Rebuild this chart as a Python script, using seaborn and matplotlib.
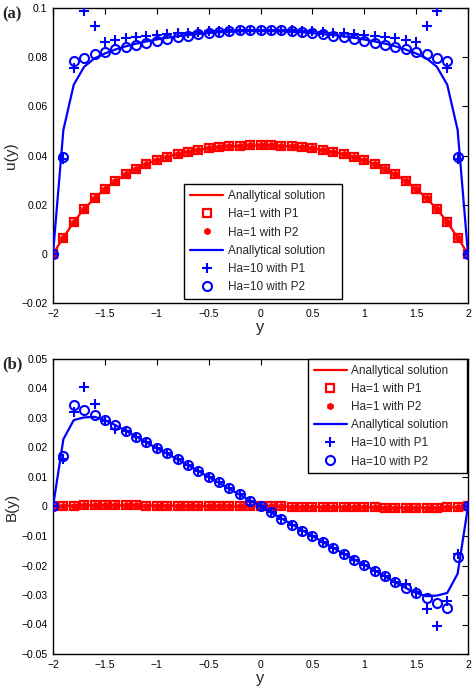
import numpy as np
import pandas as pd
import matplotlib
matplotlib.use("Agg")
import matplotlib.pyplot as plt
import seaborn as sns

# ---------------- data ----------------
y_pos = [-2.0, -1.9, -1.8, -1.7, -1.6, -1.5, -1.4, -1.3, -1.2, -1.1, -1.0,
         -0.9, -0.8, -0.7, -0.6, -0.5, -0.4, -0.3, -0.2, -0.1, 0.0,
         0.1, 0.2, 0.3, 0.4, 0.5, 0.6, 0.7, 0.8, 0.9, 1.0,
         1.1, 1.2, 1.3, 1.4, 1.5, 1.6, 1.7, 1.8, 1.9, 2.0]

# panel (a): u(y)
u_ha1 = [0, 0.0066, 0.0129, 0.0183, 0.0226, 0.0264, 0.0296, 0.0323, 0.0347, 0.0366, 0.0381,
         0.0395, 0.0406, 0.0415, 0.0423, 0.0429, 0.0434, 0.0437, 0.0439, 0.0441, 0.0441,
         0.0441, 0.0439, 0.0437, 0.0434, 0.0429, 0.0423, 0.0415, 0.0406, 0.0395, 0.0381,
         0.0366, 0.0347, 0.0323, 0.0296, 0.0264, 0.0226, 0.0183, 0.0129, 0.0066, 0]
u_ha1_p1 = list(u_ha1)
u_ha1_p2 = list(u_ha1)

u_ha10_exact = [0, 0.0504, 0.0688, 0.0761, 0.0795, 0.0815, 0.0831, 0.0844, 0.0855, 0.0864, 0.0872,
                0.0879, 0.0885, 0.0890, 0.0894, 0.0898, 0.0901, 0.0903, 0.0905, 0.0906, 0.0906,
                0.0906, 0.0905, 0.0903, 0.0901, 0.0898, 0.0894, 0.0890, 0.0885, 0.0879, 0.0872,
                0.0864, 0.0855, 0.0844, 0.0831, 0.0815, 0.0795, 0.0761, 0.0688, 0.0504, 0]
u_ha10_p1 = [0, 0.0385, 0.0757, 0.0989, 0.0925, 0.0862, 0.0870, 0.0876, 0.0882, 0.0887, 0.0891,
             0.0894, 0.0897, 0.0900, 0.0903, 0.0905, 0.0907, 0.0909, 0.0910, 0.0911, 0.0911,
             0.0911, 0.0910, 0.0909, 0.0907, 0.0905, 0.0903, 0.0900, 0.0897, 0.0894, 0.0891,
             0.0887, 0.0882, 0.0876, 0.0870, 0.0862, 0.0925, 0.0989, 0.0757, 0.0385, 0]
u_ha10_p2 = [0, 0.0393, 0.0785, 0.0796, 0.0812, 0.0822, 0.0833, 0.0842, 0.0850, 0.0859, 0.0867,
             0.0875, 0.0882, 0.0888, 0.0893, 0.0898, 0.0902, 0.0906, 0.0909, 0.0910, 0.0911,
             0.0910, 0.0909, 0.0906, 0.0902, 0.0898, 0.0893, 0.0888, 0.0882, 0.0875, 0.0867,
             0.0859, 0.0850, 0.0842, 0.0833, 0.0822, 0.0812, 0.0796, 0.0785, 0.0393, 0]

# panel (b): B(y)
b_ha1 = [0, 0.0002, 0.0003, 0.0004, 0.0004, 0.0004, 0.0004, 0.0004, 0.0004, 0.0003, 0.0003,
         0.0003, 0.0002, 0.0002, 0.0002, 0.0001, 0.0001, 0.0001, 0.0, 0.0, 0,
         0.0, 0.0, -0.0001, -0.0001, -0.0001, -0.0002, -0.0002, -0.0002, -0.0003, -0.0003,
         -0.0003, -0.0004, -0.0004, -0.0004, -0.0004, -0.0004, -0.0004, -0.0003, -0.0002, 0]
b_ha1_p1 = list(b_ha1)
b_ha1_p2 = list(b_ha1)

b_ha10_exact = [0, 0.0228, 0.0293, 0.0302, 0.0304, 0.0293, 0.0276, 0.0257, 0.0237, 0.0217, 0.0198,
                0.0179, 0.0160, 0.0140, 0.0120, 0.0100, 0.0080, 0.0060, 0.0040, 0.0020, 0,
                -0.0020, -0.0040, -0.0060, -0.0080, -0.0100, -0.0120, -0.0140, -0.0160, -0.0179, -0.0198,
                -0.0217, -0.0237, -0.0257, -0.0276, -0.0293, -0.0304, -0.0302, -0.0293, -0.0228, 0]
b_ha10_p1 = [0, 0.0160, 0.0320, 0.0405, 0.0346, 0.0290, 0.0263, 0.0256, 0.0237, 0.0217, 0.0198,
             0.0180, 0.0161, 0.0141, 0.0122, 0.0101, 0.0082, 0.0062, 0.0041, 0.0020, 0,
             -0.0020, -0.0041, -0.0062, -0.0082, -0.0101, -0.0122, -0.0141, -0.0161, -0.0180, -0.0198,
             -0.0217, -0.0237, -0.0256, -0.0263, -0.0290, -0.0346, -0.0405, -0.0320, -0.0160, 0]
b_ha10_p2 = [0, 0.0172, 0.0345, 0.0326, 0.0310, 0.0292, 0.0275, 0.0257, 0.0237, 0.0217, 0.0198,
             0.0180, 0.0161, 0.0141, 0.0122, 0.0101, 0.0082, 0.0062, 0.0041, 0.0020, 0,
             -0.0020, -0.0041, -0.0062, -0.0082, -0.0101, -0.0122, -0.0141, -0.0161, -0.0180, -0.0198,
             -0.0217, -0.0237, -0.0257, -0.0275, -0.0292, -0.0310, -0.0326, -0.0345, -0.0172, 0]

labels = ["Anallytical solution", "Ha=1 with P1", "Ha=1 with P2",
          "Anallytical solution", "Ha=10 with P1", "Ha=10 with P2"]

x_ticks = [-2, -1.5, -1, -0.5, 0, 0.5, 1, 1.5, 2]
x_ticklabels = ["\u22122", "\u22121.5", "\u22121", "\u22120.5", "0", "0.5", "1", "1.5", "2"]
a_yticks = [-0.02, 0, 0.02, 0.04, 0.06, 0.08, 0.1]
a_yticklabels = ["\u22120.02", "0", "0.02", "0.04", "0.06", "0.08", "0.1"]
b_yticks = [-0.05, -0.04, -0.03, -0.02, -0.01, 0, 0.01, 0.02, 0.03, 0.04, 0.05]
b_yticklabels = ["\u22120.05", "\u22120.04", "\u22120.03", "\u22120.02", "\u22120.01", "0",
                 "0.01", "0.02", "0.03", "0.04", "0.05"]

# ---------------- style ----------------
sns.set_theme(style="white")
plt.rcParams["font.family"] = ["Liberation Sans", "DejaVu Sans"]

RED = (1, 0, 0)
BLUE = (0, 0, 1)

fig = plt.figure(figsize=(4.75, 6.86), dpi=100)
W, H = 475.0, 686.0
ax1 = fig.add_axes([53 / W, 1 - 303 / H, 415 / W, 295 / H])
ax2 = fig.add_axes([53 / W, 1 - 654 / H, 415 / W, 295 / H])


def draw_panel(ax, r_ex, r_p1, r_p2, b_ex, b_p1, b_p2):
    df = pd.DataFrame({"y": y_pos, "r_ex": r_ex, "r_p1": r_p1, "r_p2": r_p2,
                       "b_ex": b_ex, "b_p1": b_p1, "b_p2": b_p2})
    sns.lineplot(data=df, x="y", y="r_ex", ax=ax, color=RED, lw=1.6,
                 label=labels[0], zorder=2)
    sns.lineplot(data=df, x="y", y="r_p1", ax=ax, color=RED, linestyle="none",
                 marker="s", markersize=5.2, mfc="none", mec=RED, mew=1.6,
                 label=labels[1], zorder=3)
    sns.lineplot(data=df, x="y", y="r_p2", ax=ax, color=RED, linestyle="none",
                 marker="h", markersize=4.8, mfc=RED, mec=RED, mew=0.5,
                 label=labels[2], zorder=3)
    sns.lineplot(data=df, x="y", y="b_ex", ax=ax, color=BLUE, lw=1.6,
                 label=labels[3], zorder=4)
    sns.lineplot(data=df, x="y", y="b_p1", ax=ax, color=BLUE, linestyle="none",
                 marker="+", markersize=7, mec=BLUE, mew=1.5,
                 label=labels[4], zorder=5)
    sns.lineplot(data=df, x="y", y="b_p2", ax=ax, color=BLUE, linestyle="none",
                 marker="o", markersize=6.5, mfc="none", mec=BLUE, mew=1.5,
                 label=labels[5], zorder=5)
    ax.set_xlim(-2, 2)
    ax.set_xticks(x_ticks)
    ax.set_xticklabels(x_ticklabels)
    ax.set_xlabel("y", fontsize=12, labelpad=1)
    ax.tick_params(direction="in", top=True, right=True, length=4, width=0.8,
                   labelsize=7.5, colors="black", pad=4)
    for s in ax.spines.values():
        s.set_color("black")
        s.set_linewidth(1.0)
        s.set_visible(True)


draw_panel(ax1, u_ha1, u_ha1_p1, u_ha1_p2, u_ha10_exact, u_ha10_p1, u_ha10_p2)
ax1.set_ylim(-0.02, 0.1)
ax1.set_yticks(a_yticks)
ax1.set_yticklabels(a_yticklabels)
ax1.set_ylabel("u(y)", fontsize=11, labelpad=2)

draw_panel(ax2, b_ha1, b_ha1_p1, b_ha1_p2, b_ha10_exact, b_ha10_p1, b_ha10_p2)
ax2.set_ylim(-0.05, 0.05)
ax2.set_yticks(b_yticks)
ax2.set_yticklabels(b_yticklabels)
ax2.set_ylabel("B(y)", fontsize=11, labelpad=2)

leg_kw = dict(fontsize=8.5, frameon=True, fancybox=False, edgecolor="black",
              framealpha=1, handlelength=2.8, handletextpad=0.4,
              labelspacing=0.52, borderpad=0.5, borderaxespad=0, mode="expand")
leg1 = ax1.legend(loc="lower left", bbox_to_anchor=(0.316, 0.014, 0.381, 0.39), **leg_kw)
leg2 = ax2.legend(loc="upper left", bbox_to_anchor=(0.614, 0.0, 0.383, 1.0), **leg_kw)
for lg in (leg1, leg2):
    lg.get_frame().set_linewidth(1.0)

fig.text(0.004, 1 - 14 / H, "(a)", fontsize=12, fontweight="bold",
         family=["Liberation Serif", "DejaVu Serif"], va="center", ha="left")
fig.text(0.004, 1 - 364 / H, "(b)", fontsize=12, fontweight="bold",
         family=["Liberation Serif", "DejaVu Serif"], va="center", ha="left")

fig.savefig("out.png", dpi=100)
